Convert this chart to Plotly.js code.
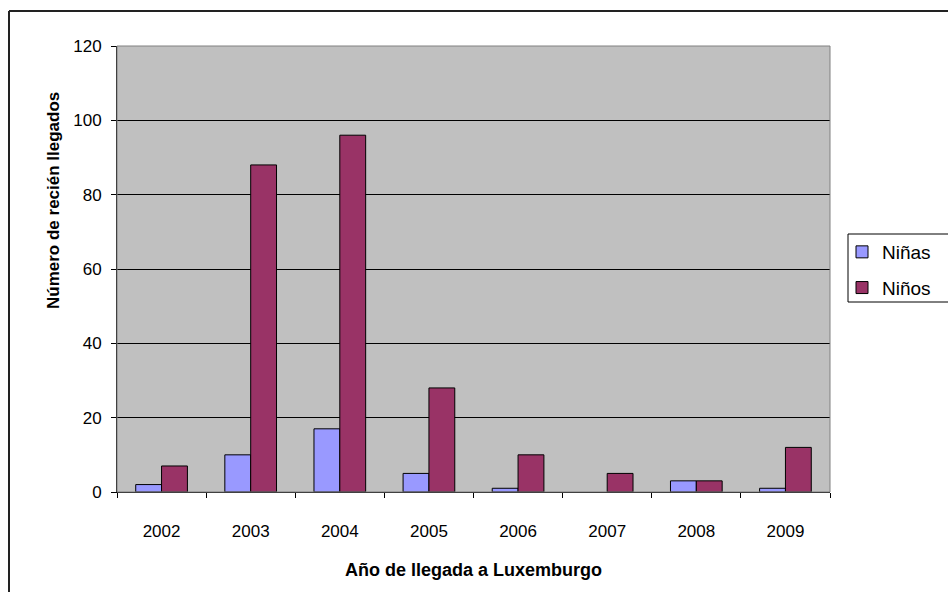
<!DOCTYPE html>
<html>
<head>
<meta charset="utf-8">
<script src="https://cdn.plot.ly/plotly-3.0.1.min.js"></script>
<style>
html,body{margin:0;padding:0;background:#fff;}
#chart{width:948px;height:592px;}
</style>
</head>
<body>
<div id="chart"></div>
<script>
var years = ["2002","2003","2004","2005","2006","2007","2008","2009"];
var ninas = [2, 10, 17, 5, 1, 0, 3, 1];
var ninos = [7, 88, 96, 28, 10, 5, 3, 12];
var seriesNames = ["Niñas", "Niños"];
var yTicks = [0, 20, 40, 60, 80, 100, 120];
var xTitle = "Año de llegada a Luxemburgo";
var yTitle = "Número de recién llegados";

var W = 948, H = 592;
var m = {l: 117, r: 118, t: 46, b: 100};
var pw = W - m.l - m.r, ph = H - m.t - m.b;
function px(x){ return (x - m.l) / pw; }
function py(y){ return 1 - (y - m.t) / ph; }
function lineW(v){ return v === 0 ? 0 : 1; }

var font = "'Liberation Sans', Arial, sans-serif";

var traces = [
  {type: "bar", name: seriesNames[0], x: years, y: ninas, legendgroup: "a",
   marker: {color: "#9999FF", line: {color: "#000", width: ninas.map(lineW)}}},
  {type: "bar", name: seriesNames[1], x: years, y: ninos, legendgroup: "b",
   marker: {color: "#993366", line: {color: "#000", width: ninos.map(lineW)}}}
];

var layout = {
  width: W, height: H,
  margin: {l: m.l, r: m.r, t: m.t, b: m.b, autoexpand: false},
  paper_bgcolor: "#fff",
  plot_bgcolor: "#C0C0C0",
  barmode: "group",
  bargap: 0.42,
  bargroupgap: 0,
  font: {family: font, size: 17, color: "#000"},
  xaxis: {
    type: "category",
    tickson: "boundaries",
    ticks: "outside", ticklen: 5, tickcolor: "#000", tickwidth: 1,
    showline: true, linecolor: "#000", linewidth: 1,
    showgrid: false, zeroline: false,
    tickfont: {family: font, size: 17},
    ticklabelstandoff: 24,
    title: {text: xTitle, font: {family: font, size: 18, weight: "bold"}, standoff: 22}
  },
  yaxis: {
    range: [0, 120],
    tickvals: yTicks,
    ticktext: yTicks.map(String),
    ticks: "outside", ticklen: 5, tickcolor: "#000", tickwidth: 1,
    showline: true, linecolor: "#000", linewidth: 1,
    showgrid: true, gridcolor: "#000", gridwidth: 1,
    zeroline: false,
    tickfont: {family: font, size: 17},
    ticklabelstandoff: 6
  },
  annotations: [
    {text: yTitle, textangle: -90, showarrow: false,
     xref: "paper", yref: "paper", x: px(53), y: py(201),
     xanchor: "center", yanchor: "middle",
     font: {family: font, size: 17, weight: "bold", color: "#000"}}
  ],
  legend: {
    x: px(842), xanchor: "left",
    y: py(233), yanchor: "top",
    borderwidth: 0,
    bgcolor: "rgba(0,0,0,0)",
    font: {family: font, size: 19},
    traceorder: "grouped",
    tracegroupgap: 8,
    itemwidth: 30
  },
  showlegend: true,
  shapes: [
    {type: "rect", xref: "paper", yref: "paper", x0: 0, x1: 1, y0: 0, y1: 1,
     line: {color: "#808080", width: 1}, layer: "above"},
    {type: "rect", xref: "paper", yref: "paper", x0: px(848), x1: px(1000), y0: py(234), y1: py(302),
     line: {color: "#000", width: 1}, fillcolor: "#fff", layer: "below"},
    {type: "line", xref: "paper", yref: "paper", x0: px(9), x1: px(9), y0: py(11), y1: py(600),
     line: {color: "#222", width: 2}},
    {type: "line", xref: "paper", yref: "paper", x0: px(9), x1: px(960), y0: py(11), y1: py(11),
     line: {color: "#222", width: 2}}
  ]
};

Plotly.newPlot("chart", traces, layout, {displayModeBar: false, staticPlot: true});
</script>
</body>
</html>
